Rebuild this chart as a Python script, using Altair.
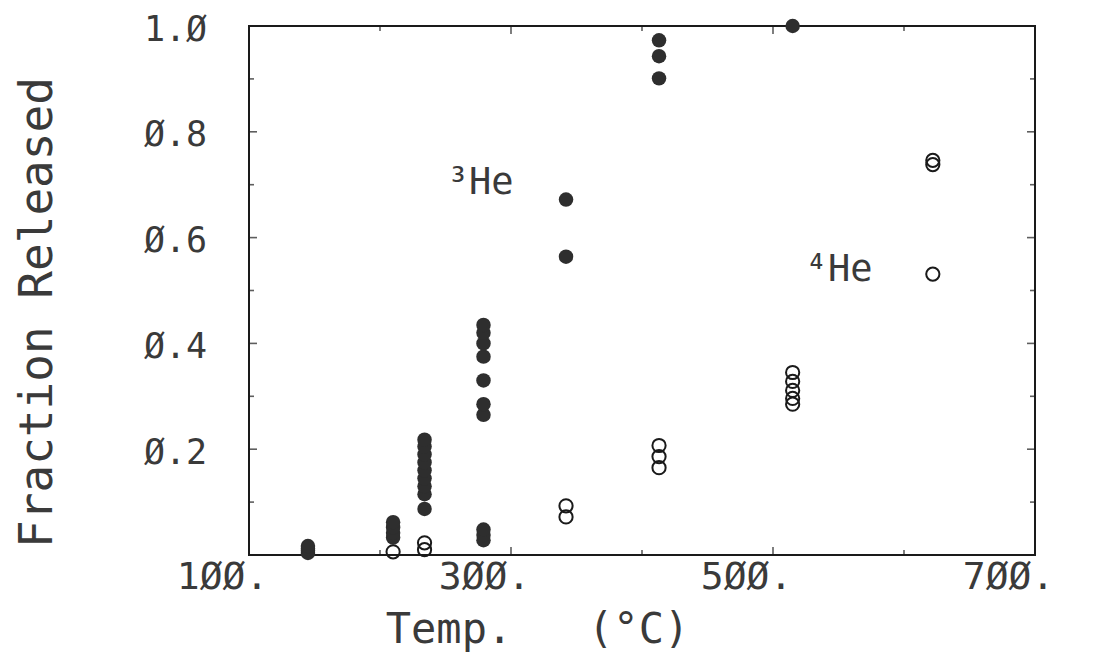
import altair as alt
import pandas as pd

# 3He (filled circles)
he3_temp = [145, 145, 145, 145,
            210, 210, 210, 210,
            234, 234, 234, 234, 234, 234, 234, 234, 234,
            279, 279, 279, 279, 279, 279, 279, 279, 279, 279,
            342, 342,
            413, 413, 413,
            515]
he3_frac = [0.004, 0.008, 0.012, 0.017,
            0.033, 0.042, 0.052, 0.062,
            0.087, 0.115, 0.13, 0.145, 0.16, 0.175, 0.19, 0.205, 0.218,
            0.028, 0.038, 0.048, 0.265, 0.285, 0.33, 0.375, 0.40, 0.42, 0.435,
            0.564, 0.672,
            0.901, 0.943, 0.973,
            1.0]

# 4He (open circles)
he4_temp = [210,
            234, 234,
            342, 342,
            413, 413, 413,
            515, 515, 515, 515, 515,
            622, 622, 622]
he4_frac = [0.006,
            0.010, 0.023,
            0.072, 0.093,
            0.165, 0.186, 0.207,
            0.285, 0.296, 0.311, 0.328, 0.345,
            0.531, 0.738, 0.746]

label_text = ["³He", "⁴He"]
label_temp = [251, 525]
label_frac = [0.703, 0.539]

x_major = [300, 500]
x_minor = [200, 400, 600]
y_major = [0.2, 0.4, 0.6, 0.8]
y_minor = [0.1, 0.3, 0.5, 0.7, 0.9]
x_labels = [100, 300, 500, 700]
y_labels = [0.2, 0.4, 0.6, 0.8, 1.0]

INK = "#3a3a3a"
FONT = "DejaVu Sans Mono"

he3 = pd.DataFrame({"temp": he3_temp, "frac": he3_frac})
he4 = pd.DataFrame({"temp": he4_temp, "frac": he4_frac})
labels = pd.DataFrame({"text": label_text, "temp": label_temp, "frac": label_frac})

xscale = alt.Scale(domain=[100, 700], nice=False, zero=False)
yscale = alt.Scale(domain=[0, 1], nice=False, zero=False)

x_axis = alt.Axis(
    values=x_labels, grid=False, domain=False, ticks=False,
    labelExpr="replace(format(datum.value, 'd'), regexp('0', 'g'), 'Ø') + '.'",
    labelAlign="center", labelOffset=-27, labelPadding=3, labelBaseline="top",
    labelFont=FONT, labelFontSize=38, labelColor=INK, labelFontWeight="normal",
    labelFlush=False,
    title="Temp.\u00a0\u00a0\u00a0(°C)", titleFont=FONT, titleFontSize=42,
    titleColor=INK, titleFontWeight="normal", titleX=288, titleY=74,
    titleBaseline="middle", titleAlign="center",
)
y_axis = alt.Axis(
    values=y_labels, grid=False, domain=False, ticks=False,
    labelExpr="replace(format(datum.value, '.1f'), regexp('0', 'g'), 'Ø')",
    labelAlign="center", labelBaseline="middle", labelPadding=74,
    labelOffset=3,
    labelFont=FONT, labelFontSize=35, labelColor=INK, labelFontWeight="normal",
    labelFlush=False,
    title="Fraction Released", titleFont=FONT, titleFontSize=46,
    titleColor=INK, titleFontWeight="normal", titleAngle=270,
    titleX=-212, titleY=286, titleBaseline="middle", titleAlign="center",
)

filled = alt.Chart(he3).mark_circle(size=210, color="#2e2e2e", opacity=1).encode(
    x=alt.X("temp:Q", scale=xscale, axis=x_axis),
    y=alt.Y("frac:Q", scale=yscale, axis=y_axis))
open_ = alt.Chart(he4).mark_point(shape="circle", size=175, filled=False,
                                  color="#1a1a1a", strokeWidth=2, opacity=1).encode(
    x=alt.X("temp:Q", scale=xscale), y=alt.Y("frac:Q", scale=yscale))
ann = alt.Chart(labels).mark_text(font=FONT, fontSize=37, color=INK, align="left",
                                  baseline="middle").encode(
    x=alt.X("temp:Q", scale=xscale), y=alt.Y("frac:Q", scale=yscale), text="text:N")


def ticks(values, horizontal, at, size):
    df = pd.DataFrame({"v": values})
    m = alt.Chart(df).mark_tick(orient="horizontal" if horizontal else "vertical",
                                color="#1a1a1a", thickness=1.6, size=size, clip=True)
    if horizontal:
        return m.encode(y=alt.Y("v:Q", scale=yscale), x=alt.datum(at, scale=xscale))
    return m.encode(x=alt.X("v:Q", scale=xscale), y=alt.datum(at, scale=yscale))


tick_layers = [
    ticks(x_major, False, 0, 16), ticks(x_minor, False, 0, 10),
    ticks(x_major, False, 1, 16), ticks(x_minor, False, 1, 10),
    ticks(y_major, True, 100, 16), ticks(y_minor, True, 100, 10),
    ticks(y_major, True, 700, 16), ticks(y_minor, True, 700, 10),
]

chart = alt.layer(*tick_layers, filled, open_, ann).properties(
    width=786, height=529,
    autosize=alt.AutoSizeParams(type="none"),
    padding={"left": 241, "top": 18, "right": 45, "bottom": 104},
    background="white",
).configure_view(stroke="#1a1a1a", strokeWidth=2)

chart.save("out.html", embed_options={"renderer": "svg", "actions": False})
